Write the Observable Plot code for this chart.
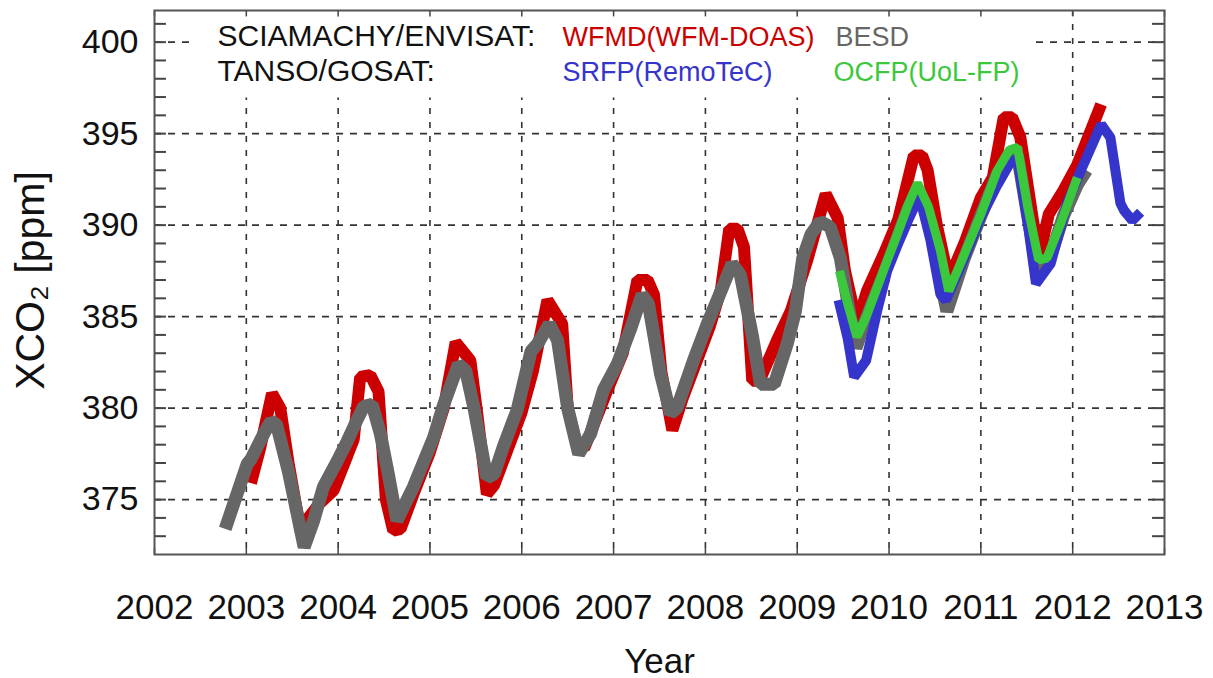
<!DOCTYPE html>
<html><head><meta charset="utf-8">
<script src="https://cdn.jsdelivr.net/npm/d3@7"></script>
<script src="https://cdn.jsdelivr.net/npm/@observablehq/plot@0.6"></script>
<style>html,body{margin:0;padding:0;background:#fff;overflow:hidden}</style>
</head><body><div id="chart"></div>
<script>
// WFMD (WFM-DOAS), SCIAMACHY/ENVISAT
const wfmdYear = [2003.05,2003.15,2003.28,2003.37,2003.46,2003.59,2003.66,2003.80,2003.95,2004.10,2004.17,2004.24,2004.35,2004.44,2004.52,2004.60,2004.68,2004.82,2005.00,2005.15,2005.28,2005.44,2005.52,2005.62,2005.70,2005.85,2006.00,2006.12,2006.28,2006.44,2006.50,2006.60,2006.68,2006.80,2006.95,2007.10,2007.26,2007.37,2007.44,2007.52,2007.64,2007.75,2007.90,2008.05,2008.17,2008.26,2008.35,2008.42,2008.51,2008.59,2008.78,2008.93,2009.11,2009.31,2009.44,2009.52,2009.65,2009.76,2009.95,2010.10,2010.27,2010.36,2010.42,2010.52,2010.65,2010.82,2011.00,2011.13,2011.25,2011.34,2011.43,2011.53,2011.63,2011.74,2011.90,2012.05,2012.31];
const wfmdXco2 = [375.9,377.8,380.8,380.0,377.0,373.3,373.9,374.8,375.5,377.4,378.3,381.7,381.8,380.9,375.0,373.3,373.4,375.3,377.6,380.0,383.6,382.6,379.5,375.3,375.8,377.8,379.8,382.0,385.9,384.6,380.0,378.0,377.8,379.3,381.2,383.0,387.0,387.0,386.2,382.0,378.8,380.5,382.5,384.5,386.5,389.8,389.8,388.8,381.5,381.5,383.7,385.3,388.1,391.7,390.4,387.5,384.6,386.4,388.5,390.3,393.8,393.8,393.0,390.0,387.0,389.0,391.5,392.6,395.9,395.9,394.8,391.5,388.2,390.6,391.9,393.3,396.6];
// BESD, SCIAMACHY/ENVISAT
const besdYear = [2002.77,2003.01,2003.05,2003.18,2003.27,2003.33,2003.46,2003.63,2003.73,2003.84,2003.99,2004.10,2004.21,2004.28,2004.37,2004.46,2004.55,2004.64,2004.82,2005.04,2005.15,2005.31,2005.39,2005.48,2005.62,2005.70,2005.80,2005.95,2006.10,2006.17,2006.30,2006.39,2006.50,2006.62,2006.75,2006.89,2007.04,2007.19,2007.31,2007.38,2007.51,2007.62,2007.69,2007.87,2008.02,2008.17,2008.29,2008.38,2008.51,2008.60,2008.75,2008.89,2008.98,2009.06,2009.15,2009.25,2009.36,2009.47,2009.56,2009.64,2009.76,2009.98,2010.20,2010.31,2010.43,2010.52,2010.63,2010.82,2011.00,2011.18,2011.33,2011.40,2011.51,2011.62,2011.74,2011.90,2012.05,2012.15];
const besdXco2 = [373.4,376.95,377.2,378.5,379.3,379.1,376.5,372.4,373.8,375.7,377.1,378.2,379.4,380.1,380.2,378.6,376.3,373.85,375.7,378.4,380.2,382.4,382.05,380.0,376.2,376.4,377.9,379.9,383.1,383.5,384.6,383.7,380.0,377.5,378.6,381.0,382.4,384.4,386.2,385.7,381.9,379.7,380.0,382.6,384.6,386.4,387.9,387.3,384.0,381.3,381.3,383.5,385.3,388.2,389.5,390.2,389.9,388.2,385.5,383.3,385.0,387.8,390.8,392.0,390.3,388.0,385.3,388.2,390.5,392.8,393.8,393.8,390.5,387.5,388.0,390.5,392.2,393.0];
// SRFP (RemoTeC), TANSO/GOSAT
const srfpYear = [2009.45,2009.55,2009.62,2009.75,2009.87,2009.98,2010.10,2010.22,2010.33,2010.45,2010.56,2010.62,2010.82,2011.00,2011.18,2011.33,2011.40,2011.51,2011.60,2011.76,2011.94,2012.09,2012.31,2012.41,2012.52,2012.56,2012.65,2012.74];
const srfpXco2 = [385.9,383.8,381.7,382.6,385.3,387.5,389.0,390.4,391.6,389.2,386.2,385.9,388.2,390.4,392.2,393.5,393.6,390.1,386.8,387.9,391.2,393.0,395.5,394.8,391.2,390.8,390.25,390.7];
// OCFP (UoL-FP), TANSO/GOSAT
const ocfpYear = [2009.46,2009.55,2009.65,2009.76,2009.98,2010.09,2010.20,2010.31,2010.43,2010.56,2010.65,2010.82,2011.00,2011.18,2011.31,2011.40,2011.51,2011.63,2011.72,2011.87,2012.05];
const ocfpXco2 = [387.5,385.7,383.9,385.1,388.06,389.5,391.0,392.3,391.0,388.6,386.4,388.4,390.6,393.0,394.1,394.25,391.0,388.1,388.2,390.1,392.6];

const yearTicks = [2002,2003,2004,2005,2006,2007,2008,2009,2010,2011,2012,2013];
const gridYears = [2003,2004,2005,2006,2007,2008,2009,2010,2011,2012];
const yTicks = [375,380,385,390,395,400];
const minorY = d3.range(373, 402);

function rows(years, vals) { return years.map((x, i) => ({year: x, xco2: vals[i]})); }
const wfmd = rows(wfmdYear, wfmdXco2);
const besd = rows(besdYear, besdXco2);
const srfp = rows(srfpYear, srfpXco2);
const ocfp = rows(ocfpYear, ocfpXco2);

const RED = "#cc0000", GRAY = "#666666", BLUE = "#3535cc", GREEN = "#3cc83c";
const FONT = "'Liberation Sans', Arial, Helvetica, sans-serif";
const lineStyle = {strokeLinejoin: "miter", strokeLinecap: "butt", clip: true};

const chart = Plot.plot({
  width: 1213, height: 678,
  marginTop: 10, marginRight: 49, marginBottom: 124, marginLeft: 154,
  style: {fontFamily: FONT, background: "#fff", color: "#111", fontSize: "34px"},
  x: {domain: [2002, 2013]},
  y: {domain: [372, 401.73]},
  marks: [
    Plot.gridX(gridYears, {stroke: "#333", strokeOpacity: 1, strokeWidth: 1.6, strokeDasharray: "6,8"}),
    Plot.gridY(yTicks, {stroke: "#333", strokeOpacity: 1, strokeWidth: 1.6, strokeDasharray: "7,7"}),
    // white legend box (hides the grid behind the legend)
    Plot.frame({fill: "#fff", stroke: "none", insetLeft: 41, insetRight: 134, insetTop: 1, insetBottom: 457}),
    Plot.ruleY(minorY, {x1: 2002, x2: 2002.13, stroke: "#444", strokeWidth: 2}),
    Plot.ruleY(minorY, {x1: 2012.87, x2: 2013, stroke: "#444", strokeWidth: 2}),
    Plot.ruleX(yearTicks, {y1: 372, y2: 372.35, stroke: "#444", strokeWidth: 1.5}),
    Plot.ruleX(yearTicks, {y1: 401.38, y2: 401.73, stroke: "#444", strokeWidth: 1.5}),
    Plot.line(wfmd, {x: "year", y: "xco2", stroke: RED, strokeWidth: 12, ...lineStyle}),
    Plot.line(besd, {x: "year", y: "xco2", stroke: GRAY, strokeWidth: 13, ...lineStyle}),
    Plot.line(srfp, {x: "year", y: "xco2", stroke: BLUE, strokeWidth: 10, ...lineStyle}),
    Plot.line(ocfp, {x: "year", y: "xco2", stroke: GREEN, strokeWidth: 9, ...lineStyle}),
    Plot.frame({stroke: "#555", strokeWidth: 2}),
    Plot.axisX(yearTicks, {tickSize: 0, tickPadding: 40, fontSize: 35, tickFormat: d => String(d), label: null}),
    Plot.axisY(yTicks, {tickSize: 0, tickPadding: 16, fontSize: 34, label: null}),
    Plot.text(["Year"], {frameAnchor: "bottom", dy: 118, lineAnchor: "bottom", fontSize: 35, fill: "#111"}),
    Plot.text(["XCO₂ [ppm]"], {frameAnchor: "left", dx: -124, dy: -2, rotate: -90, textAnchor: "middle", lineAnchor: "middle", fontSize: 41, fill: "#111"}),
    Plot.text(["SCIAMACHY/ENVISAT:"], {frameAnchor: "top-left", dx: 63, dy: 35, lineAnchor: "bottom", textAnchor: "start", fontSize: 30, fill: "#111"}),
    Plot.text(["TANSO/GOSAT:"], {frameAnchor: "top-left", dx: 63, dy: 70, lineAnchor: "bottom", textAnchor: "start", fontSize: 30, fill: "#111"}),
    Plot.text(["WFMD(WFM-DOAS)"], {frameAnchor: "top-left", dx: 408, dy: 35, lineAnchor: "bottom", textAnchor: "start", fontSize: 27, fill: RED}),
    Plot.text(["BESD"], {frameAnchor: "top-left", dx: 681, dy: 35, lineAnchor: "bottom", textAnchor: "start", fontSize: 27, fill: GRAY}),
    Plot.text(["SRFP(RemoTeC)"], {frameAnchor: "top-left", dx: 408, dy: 70, lineAnchor: "bottom", textAnchor: "start", fontSize: 27, fill: BLUE}),
    Plot.text(["OCFP(UoL-FP)"], {frameAnchor: "top-left", dx: 679, dy: 70, lineAnchor: "bottom", textAnchor: "start", fontSize: 27, fill: GREEN})
  ]
});
document.getElementById("chart").appendChild(chart);
</script>
</body></html>
